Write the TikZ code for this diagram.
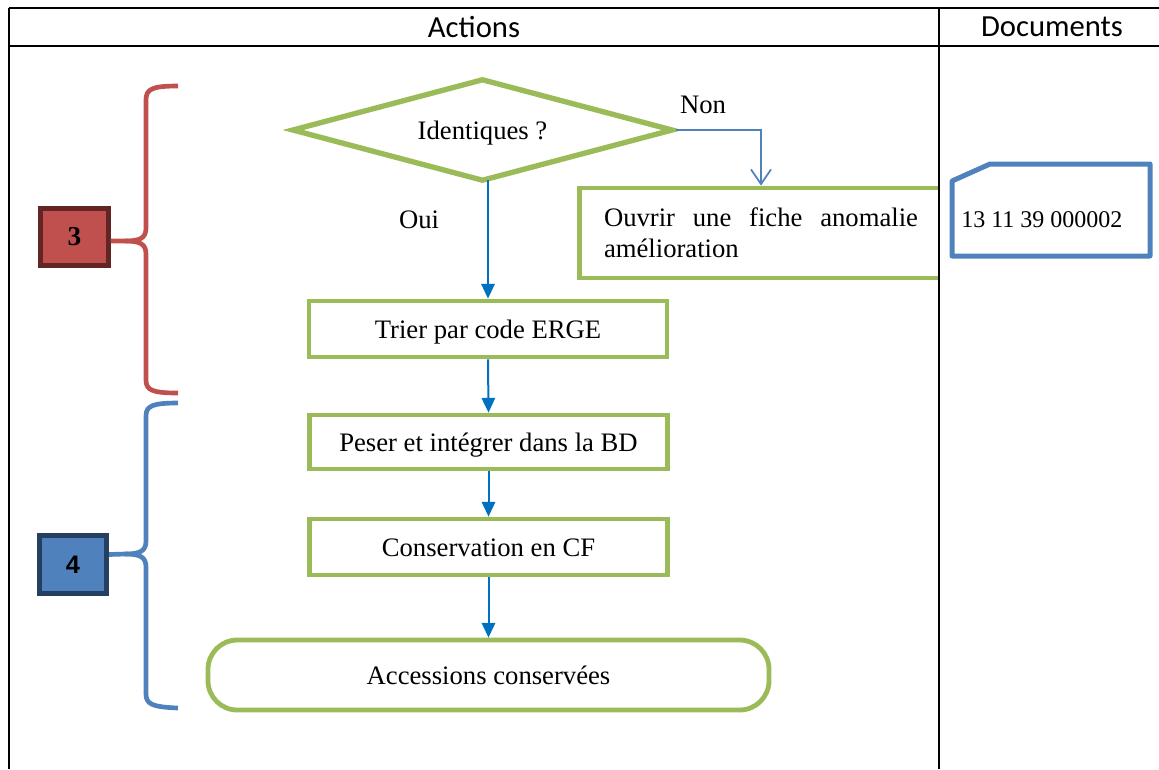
\documentclass[tikz,border=0pt]{standalone}
\usepackage{fontspec}
\setmainfont{Liberation Serif}
\newfontfamily\hdrfont{Carlito}
\newfontfamily\numsans{Liberation Sans}
\usetikzlibrary{shapes.geometric,arrows.meta}
\definecolor{boxgreen}{HTML}{9BBB59}
\definecolor{arrowblue}{HTML}{0070C0}
\definecolor{lineblue}{HTML}{4F81BD}
\definecolor{bracered}{HTML}{C0504D}
\definecolor{darkred}{HTML}{632523}
\definecolor{darknavy}{HTML}{243F60}
\newcommand{\mainsz}{\fontsize{20}{23.5}\selectfont}
\begin{document}
\begin{tikzpicture}[x=0.75pt,y=-0.75pt,
  proc/.style={draw=boxgreen, line width=3.6pt, fill=white, inner sep=0pt, font=\mainsz},
  low/.style={text height=18pt, text depth=4pt},
  arr/.style={draw=arrowblue, line width=1.5pt, -{Triangle[length=11pt,width=10pt]}},
  nonarr/.style={draw=lineblue, line width=1.3pt, -{Straight Barb[length=11pt,width=15pt]}},
  tab/.style={draw=black, line width=1.5pt},
  brace/.style={line width=3.5pt, line join=round},
  numbox/.style={line width=3.75pt, inner sep=0pt, minimum width=50.5pt, minimum height=43pt},
  lbl/.style={font=\mainsz, inner sep=0pt}
]
\useasboundingbox (0,0) rectangle (1159,769);

% header texts
\node[font=\hdrfont\fontsize{23}{26}\selectfont] (hact) at (474,27) {Actions};
\node[font=\hdrfont\fontsize{23}{26}\selectfont] (hdoc) at (1052,27) {Documents};

% flow nodes
\node[proc, diamond, aspect=3.6, minimum width=286pt, minimum height=77pt, line width=4pt, low] (dia) at (482.5,130) {Identiques ?};
\begin{scope}
\clip (0,0) rectangle (938,769);
\node[proc, minimum width=272pt, minimum height=67.5pt, text width=235.5pt, align=justify] (ouvrir) at (761,233)
  {\hyphenpenalty=10000\exhyphenpenalty=10000 Ouvrir une fiche anomalie am\'elioration};
\end{scope}
\node[proc, low, minimum width=268.5pt, minimum height=42pt] (trier) at (488,329) {Trier par code ERGE};
\node[proc, low, minimum width=269pt, minimum height=40.5pt] (peser) at (488.5,442) {Peser et int\'egrer dans la BD};
\node[proc, low, minimum width=269pt, minimum height=42pt] (cons) at (488.5,547) {Conservation en CF};
\node[proc, low, minimum width=420.75pt, minimum height=52.5pt, rounded corners=22pt] (acc) at (488.5,675) {Accessions conserv\'ees};

\node[lbl] (non) at (703,105) {Non};
\node[lbl] (oui) at (419,220) {Oui};

% connectors
\draw[arr] (trier.north |- dia.south) ++(0,-4) -- (trier.north);
\draw[arr] (trier.south) -- (peser.north);
\draw[arr] (peser.south) -- (cons.north);
\draw[arr] (cons.south) -- (acc.north);
\draw[nonarr] (dia.east) -| (ouvrir.north);

% document shape
\draw[draw=lineblue, line width=3.75pt, line join=round] (952,181) -- (990,164) -- (1150,164) -- (1150,256) -- (952,256) -- cycle;
\node[font=\fontsize{18}{21}\selectfont, anchor=west, inner sep=0pt] (docno) at (961,220) {13 11 39 000002};

% number boxes
\node[numbox, draw=darkred, fill=bracered, font=\fontsize{20.5}{24}\selectfont\bfseries] (b3) at (74.5,237) {3};
\node[numbox, draw=darknavy, fill=lineblue, font=\numsans\fontsize{19}{24}\selectfont\bfseries] (b4) at (73,564.5) {4};

% braces
\draw[brace, draw=bracered] ([yshift=-3pt]b3.east) -- (125,241)
  .. controls (140,241) and (146,238) .. (146,228) -- (146,100)
  .. controls (146,89) and (152,86) .. (178,86);
\draw[brace, draw=bracered] (125,241)
  .. controls (140,241) and (146,244) .. (146,254) -- (146,380)
  .. controls (146,390) and (152,393) .. (178,393);
\draw[brace, draw=lineblue] ([yshift=7.5pt]b4.east) -- (125,554)
  .. controls (140,554) and (146,551) .. (146,541) -- (146,416)
  .. controls (146,406) and (152,403) .. (178,403);
\draw[brace, draw=lineblue] (125,554)
  .. controls (140,554) and (146,557) .. (146,567) -- (146,694)
  .. controls (146,704) and (152,707) .. (178,708);

% table lines
\draw[tab] (9,8) -- (1159,8);
\draw[tab] (9,46) -- (1159,46);
\draw[tab] (9,8) -- (9,769);
\draw[tab] (939,8) -- (939,769);
\end{tikzpicture}
\end{document}
